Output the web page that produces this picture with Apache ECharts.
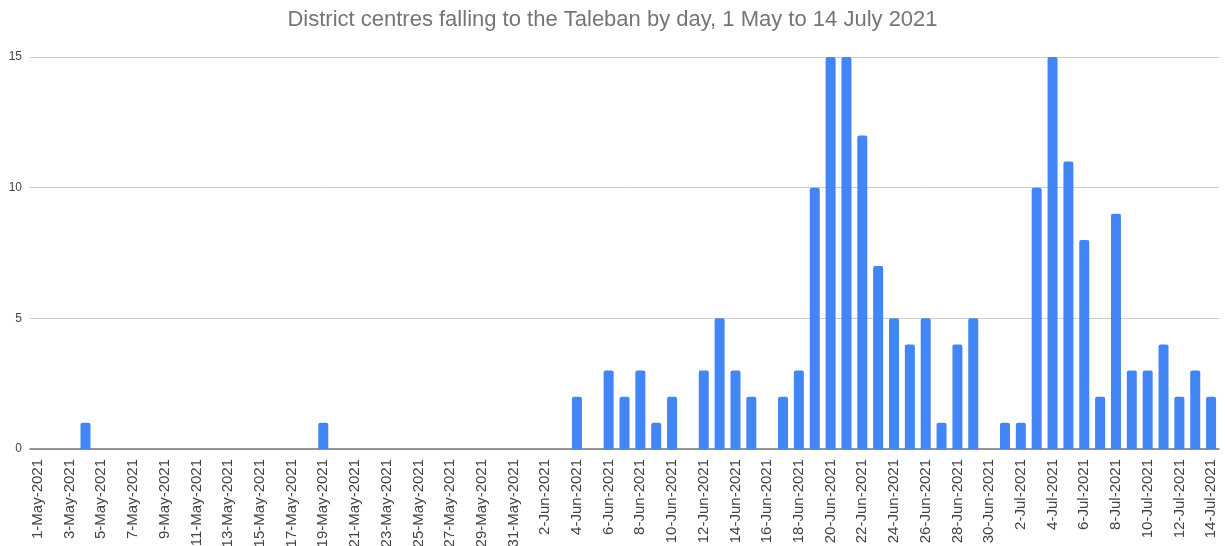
<!DOCTYPE html>
<html>
<head>
<meta charset="utf-8">
<script src="https://cdn.jsdelivr.net/npm/echarts@6/dist/echarts.min.js"></script>
<style>
html,body{margin:0;padding:0;background:#fff;}
#chart{width:1225px;height:546px;}
</style>
</head>
<body>
<div id="chart"></div>
<script>
const titleText = 'District centres falling to the Taleban by day, 1 May to 14 July 2021';
const months = [['May', 31], ['Jun', 30], ['Jul', 14]];
const categories = [];
months.forEach(([m, n]) => { for (let d = 1; d <= n; d++) categories.push(d + '-' + m + '-2021'); });

// values per day, 1 May .. 14 Jul
const mayValues = [0,0,0,1,0,0,0,0,0,0, 0,0,0,0,0,0,0,0,1,0, 0,0,0,0,0,0,0,0,0,0, 0];
const junValues = [0,0,0,2,0,3,2,3,1,2, 0,3,5,3,2,0,2,3,10,15, 15,12,7,5,4,5,1,4,5,0];
const julValues = [1,1,10,15,11,8,2,9,3,3, 4,2,3,2];
const values = mayValues.concat(junValues, julValues);
const yTicks = { min: 0, max: 15, interval: 5 };

const FONT = "'Liberation Sans', Arial, sans-serif";
const chart = echarts.init(document.getElementById('chart'), null, { renderer: 'canvas' });
chart.setOption({
  animation: false,
  backgroundColor: '#fff',
  title: {
    text: titleText,
    left: 'center',
    top: 4,
    textStyle: { fontFamily: FONT, fontSize: 22, fontWeight: 'normal', color: '#757575' }
  },
  grid: { left: 30, right: 6, top: 57, bottom: 97, containLabel: false, outerBoundsMode: 'none' },
  xAxis: {
    type: 'category',
    data: categories,
    boundaryGap: true,
    axisLine: { show: true, lineStyle: { color: '#777', width: 1.5 } },
    axisTick: { show: false },
    axisLabel: {
      interval: 1,
      rotate: 90,
      margin: 10,
      fontFamily: FONT,
      fontSize: 15,
      color: '#444'
    },
    splitLine: { show: false }
  },
  yAxis: {
    type: 'value',
    min: yTicks.min,
    max: yTicks.max,
    interval: yTicks.interval,
    axisLine: { show: false },
    axisTick: { show: false },
    axisLabel: { margin: 8, fontFamily: FONT, fontSize: 12, color: '#444' },
    splitLine: { lineStyle: { color: '#ccc', width: 1 } }
  },
  series: [{
    type: 'bar',
    data: values,
    barWidth: 10,
    itemStyle: { color: '#4285F4', borderRadius: [2, 2, 0, 0] }
  }]
});
</script>
</body>
</html>
